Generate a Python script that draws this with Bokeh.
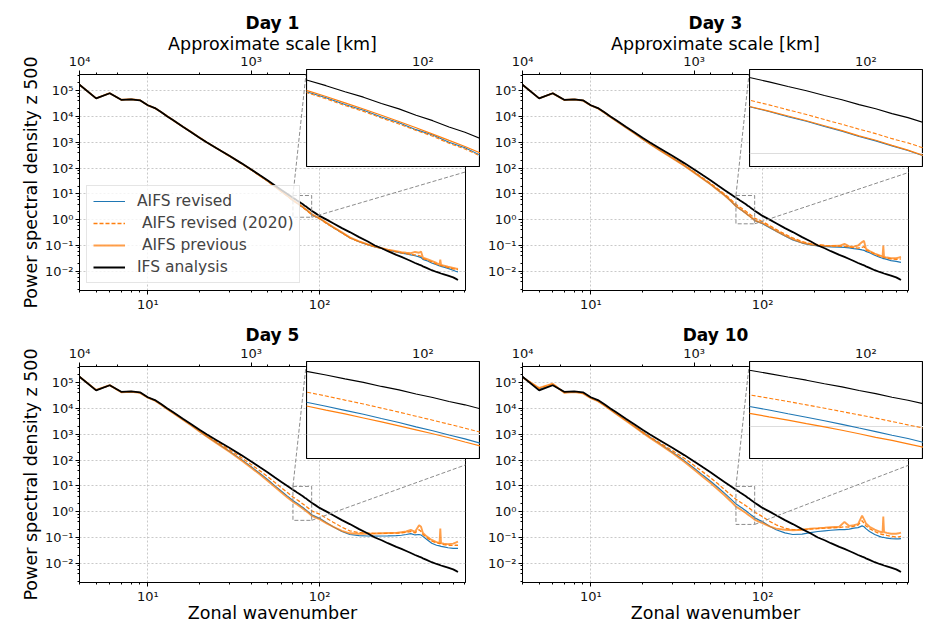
import math
from bokeh.plotting import figure
from bokeh.models import (GridBox, LogAxis, LogScale, Range1d, CustomJSTickFormatter,
                          LogTicker, Arrow, FixedTicker)
from bokeh.embed import file_html
from bokeh.resources import INLINE

# ---------------- data ----------------
wavenumber = [4, 5, 6, 7, 8, 9, 10, 11, 12, 13, 14, 16, 18, 20, 22, 25, 30, 35, 40, 45,
              50, 55, 60, 65, 70, 72, 74, 76, 78, 80, 82, 84, 86, 88, 90, 95, 100, 110, 120, 135,
              150, 170, 190, 210, 230, 250, 280, 300, 320, 340, 360, 380, 390, 400, 420, 450, 480, 500, 505, 510,
              530, 560, 600, 620, 640]

ifs_analysis = [1.7e5, 5.0e4, 7.9e4, 4.4e4, 4.6e4, 4.2e4, 2.7e4, 2.1e4, 1.45e4, 1.0e4,
                7.2e3, 4.0e3, 2.4e3, 1.5e3, 1.0e3, 600, 290, 155, 88, 52,
                33, 21, 14, 9.8, 7.0, 6.25, 5.55, 4.98, 4.4, 3.95,
                3.48, 3.13, 2.76, 2.49, 2.2, 1.75, 1.4, 1.0, 0.73, 0.47,
                0.33, 0.21, 0.145, 0.10, 0.078, 0.06, 0.043, 0.036, 0.030, 0.025,
                0.021, 0.018, 0.017, 0.0155, 0.0135, 0.011, 0.0094, 0.0086, 0.0084, 0.0082,
                0.0076, 0.0068, 0.0058, 0.0052, 0.0046]

# Day 1
aifs_revised_day1 = [1.7e5, 5.0e4, 7.9e4, 4.4e4, 4.6e4, 4.2e4, 2.7e4, 2.1e4, 1.45e4, 1.0e4,
                     7.2e3, 4.0e3, 2.4e3, 1.5e3, 1.0e3, 598, 288, 153, 86, 50,
                     31, 19, 12.2, 8.3, 5.55, 4.92, 4.3, 3.85, 3.36, 3.0,
                     2.62, 2.36, 2.04, 1.83, 1.58, 1.3, 1.1, 0.72, 0.5, 0.31,
                     0.2, 0.14, 0.108, 0.088, 0.076, 0.066, 0.056, 0.05, 0.047, 0.043,
                     0.04, 0.036, 0.034, 0.029, 0.026, 0.021, 0.018, 0.016, 0.016, 0.0155,
                     0.0145, 0.013, 0.011, 0.010, 0.0095]
aifs_revised_2020_day1 = [1.7e5, 5.0e4, 7.9e4, 4.4e4, 4.6e4, 4.2e4, 2.7e4, 2.1e4, 1.45e4, 1.0e4,
                          7.2e3, 4.0e3, 2.4e3, 1.5e3, 1.0e3, 597, 287, 152, 85, 49.5,
                          30.5, 18.7, 12.0, 8.1, 5.45, 4.82, 4.22, 3.76, 3.3, 2.93,
                          2.58, 2.3, 2.0, 1.79, 1.55, 1.27, 1.08, 0.71, 0.49, 0.305,
                          0.198, 0.14, 0.108, 0.089, 0.077, 0.067, 0.057, 0.052, 0.048, 0.045,
                          0.043, 0.04, 0.038, 0.031, 0.028, 0.023, 0.019, 0.017, 0.017, 0.0165,
                          0.0155, 0.014, 0.0125, 0.0118, 0.0115]
aifs_previous_day1 = [1.7e5, 5.0e4, 7.9e4, 4.4e4, 4.6e4, 4.2e4, 2.7e4, 2.1e4, 1.45e4, 1.0e4,
                      7.2e3, 4.0e3, 2.4e3, 1.5e3, 1.0e3, 600, 289, 154, 87, 50.5,
                      31.5, 19.3, 12.4, 8.5, 5.7, 5.04, 4.45, 3.94, 3.48, 3.08,
                      2.72, 2.4, 2.12, 1.88, 1.65, 1.34, 1.14, 0.75, 0.52, 0.32,
                      0.205, 0.145, 0.112, 0.091, 0.079, 0.069, 0.06, 0.055, 0.052, 0.05,
                      0.056, 0.052, 0.058, 0.034, 0.03, 0.025, 0.021, 0.018, 0.028, 0.0175,
                      0.0165, 0.015, 0.0135, 0.0128, 0.0122]

# Day 3
aifs_revised_day3 = [1.7e5, 5.0e4, 7.8e4, 4.3e4, 4.5e4, 4.1e4, 2.65e4, 2.05e4, 1.4e4, 9.6e3,
                     6.8e3, 3.75e3, 2.2e3, 1.34e3, 880, 510, 238, 124, 67, 38,
                     23, 14, 8.9, 5.5, 3.3, 2.92, 2.55, 2.27, 1.98, 1.76,
                     1.53, 1.37, 1.2, 1.07, 0.93, 0.8, 0.7, 0.49, 0.36, 0.235,
                     0.165, 0.124, 0.104, 0.096, 0.092, 0.088, 0.086, 0.084, 0.081, 0.076,
                     0.072, 0.067, 0.065, 0.059, 0.052, 0.042, 0.035, 0.032, 0.031, 0.031,
                     0.029, 0.026, 0.024, 0.023, 0.022]
aifs_revised_2020_day3 = [1.7e5, 5.0e4, 7.9e4, 4.4e4, 4.6e4, 4.2e4, 2.7e4, 2.08e4, 1.43e4, 9.8e3,
                          7.0e3, 3.85e3, 2.26e3, 1.38e3, 910, 530, 248, 130, 71, 40.5,
                          25, 15.5, 9.9, 6.3, 3.9, 3.46, 3.04, 2.7, 2.37, 2.1,
                          1.85, 1.65, 1.45, 1.3, 1.14, 0.97, 0.84, 0.59, 0.42, 0.275,
                          0.195, 0.142, 0.118, 0.107, 0.1, 0.097, 0.094, 0.092, 0.088, 0.083,
                          0.079, 0.085, 0.09, 0.066, 0.058, 0.046, 0.039, 0.035, 0.036, 0.034,
                          0.032, 0.03, 0.029, 0.029, 0.03]
aifs_previous_day3 = [1.7e5, 5.0e4, 7.8e4, 4.3e4, 4.5e4, 4.1e4, 2.65e4, 2.05e4, 1.4e4, 9.6e3,
                      6.8e3, 3.72e3, 2.18e3, 1.33e3, 875, 505, 235, 122, 66, 37.5,
                      22.8, 13.9, 8.8, 5.5, 3.32, 2.95, 2.6, 2.3, 2.02, 1.78,
                      1.56, 1.39, 1.22, 1.08, 0.94, 0.82, 0.74, 0.52, 0.37, 0.245,
                      0.175, 0.13, 0.11, 0.102, 0.098, 0.096, 0.097, 0.115, 0.092, 0.09,
                      0.1, 0.135, 0.15, 0.075, 0.061, 0.048, 0.041, 0.037, 0.1, 0.036,
                      0.034, 0.032, 0.032, 0.034, 0.036]

# Day 5
aifs_revised_day5 = [1.7e5, 5.1e4, 7.9e4, 4.3e4, 4.5e4, 4.1e4, 2.6e4, 2.02e4, 1.38e4, 9.4e3,
                     6.75e3, 3.72e3, 2.16e3, 1.3e3, 840, 480, 215, 106, 55, 30,
                     17.2, 10, 6.2, 4.0, 2.7, 2.38, 2.1, 1.86, 1.63, 1.44,
                     1.26, 1.12, 0.98, 0.87, 0.76, 0.64, 0.55, 0.37, 0.26, 0.17,
                     0.13, 0.118, 0.114, 0.113, 0.114, 0.115, 0.118, 0.122, 0.13, 0.14,
                     0.125, 0.13, 0.125, 0.11, 0.085, 0.06, 0.05, 0.047, 0.046, 0.045,
                     0.043, 0.04, 0.038, 0.038, 0.038]
aifs_revised_2020_day5 = [1.68e5, 5.0e4, 7.8e4, 4.3e4, 4.5e4, 4.1e4, 2.65e4, 2.05e4, 1.41e4, 9.7e3,
                          6.95e3, 3.8e3, 2.23e3, 1.38e3, 900, 528, 246, 125, 67, 38,
                          22.4, 13.5, 8.4, 5.5, 3.7, 3.27, 2.88, 2.56, 2.25, 1.99,
                          1.75, 1.55, 1.37, 1.21, 1.07, 0.92, 0.8, 0.55, 0.39, 0.25,
                          0.18, 0.155, 0.148, 0.145, 0.145, 0.145, 0.147, 0.15, 0.158, 0.17,
                          0.15, 0.2, 0.17, 0.13, 0.1, 0.072, 0.062, 0.058, 0.06, 0.056,
                          0.053, 0.05, 0.049, 0.05, 0.05]
aifs_previous_day5 = [1.7e5, 5.2e4, 8.0e4, 4.2e4, 4.4e4, 4.0e4, 2.6e4, 2.0e4, 1.37e4, 9.3e3,
                      6.7e3, 3.68e3, 2.11e3, 1.28e3, 820, 462, 203, 98, 50, 27.5,
                      15.5, 9, 5.5, 3.5, 2.4, 2.12, 1.88, 1.66, 1.47, 1.3,
                      1.15, 1.02, 0.9, 0.79, 0.7, 0.59, 0.51, 0.35, 0.26, 0.18,
                      0.145, 0.14, 0.14, 0.142, 0.145, 0.148, 0.15, 0.16, 0.17, 0.195,
                      0.165, 0.3, 0.26, 0.15, 0.11, 0.08, 0.066, 0.062, 0.22, 0.06,
                      0.057, 0.055, 0.058, 0.063, 0.069]

# Day 10
aifs_revised_day10 = [1.7e5, 5.6e4, 8.2e4, 4.2e4, 4.4e4, 4.0e4, 2.55e4, 1.95e4, 1.32e4, 9.0e3,
                      6.4e3, 3.45e3, 2.0e3, 1.2e3, 780, 445, 197, 95, 48, 25.5,
                      14.8, 8.6, 5.2, 3.2, 2.0, 1.77, 1.56, 1.38, 1.22, 1.08,
                      0.95, 0.84, 0.74, 0.66, 0.58, 0.48, 0.41, 0.27, 0.2, 0.15,
                      0.13, 0.135, 0.155, 0.17, 0.18, 0.19, 0.2, 0.2, 0.21, 0.23,
                      0.24, 0.28, 0.26, 0.22, 0.17, 0.13, 0.11, 0.1, 0.1, 0.1,
                      0.095, 0.09, 0.088, 0.088, 0.09]
aifs_revised_2020_day10 = [1.65e5, 6.0e4, 8.8e4, 4.1e4, 4.4e4, 3.9e4, 2.55e4, 1.95e4, 1.33e4, 9.1e3,
                           6.5e3, 3.5e3, 2.05e3, 1.23e3, 810, 480, 226, 117, 61, 34,
                           20, 12, 7.2, 4.6, 3.0, 2.67, 2.38, 2.12, 1.89, 1.68,
                           1.5, 1.34, 1.19, 1.06, 0.95, 0.78, 0.64, 0.42, 0.31, 0.23,
                           0.2, 0.2, 0.21, 0.22, 0.23, 0.235, 0.24, 0.26, 0.25, 0.27,
                           0.3, 0.45, 0.35, 0.28, 0.22, 0.17, 0.14, 0.13, 0.13, 0.13,
                           0.12, 0.11, 0.105, 0.105, 0.11]
aifs_previous_day10 = [1.6e5, 6.2e4, 9.0e4, 4.0e4, 4.3e4, 3.8e4, 2.5e4, 1.9e4, 1.3e4, 8.8e3,
                       6.2e3, 3.35e3, 1.9e3, 1.14e3, 730, 420, 183, 85, 42, 22,
                       12.5, 7.2, 4.3, 2.6, 1.58, 1.4, 1.25, 1.11, 0.99, 0.88,
                       0.78, 0.69, 0.62, 0.55, 0.49, 0.41, 0.36, 0.27, 0.22, 0.2,
                       0.19, 0.2, 0.22, 0.23, 0.24, 0.25, 0.26, 0.4, 0.28, 0.3,
                       0.33, 0.7, 0.5, 0.35, 0.26, 0.2, 0.17, 0.155, 0.64, 0.16,
                       0.15, 0.14, 0.14, 0.145, 0.155]

day_titles = ["Day 1", "Day 3", "Day 5", "Day 10"]
revised = [aifs_revised_day1, aifs_revised_day3, aifs_revised_day5, aifs_revised_day10]
revised_2020 = [aifs_revised_2020_day1, aifs_revised_2020_day3, aifs_revised_2020_day5, aifs_revised_2020_day10]
previous = [aifs_previous_day1, aifs_previous_day3, aifs_previous_day5, aifs_previous_day10]

inset_k = [70, 90]
inset_low = [1.24, 0.69, 0.46, 0.32]
inset_high = [8.6, 8.6, 9.5, 9.5]

legend_labels = ["AIFS revised", " AIFS revised (2020)", " AIFS previous", "IFS analysis"]

X_RANGE = (4, 708)
Y_RANGE = (1.8e-3, 4.2e5)

# ---------------- styling / layout ----------------
BLUE = "#1f77b4"
ORANGE = "#ff7f0e"
FONT = "DejaVu Sans"
FW, FH = 386, 216
LB = [79, 52]
RB = [5, 22]
TB = [74, 46]
BB = [30, 57]
IW, IH = 174, 98
INSET_OX, INSET_OY = 227, -5

SUP_JS = """
const sup = {"-": "\u207b", "0": "\u2070", "1": "\u00b9", "2": "\u00b2", "3": "\u00b3",
             "4": "\u2074", "5": "\u2075", "6": "\u2076", "7": "\u2077", "8": "\u2078", "9": "\u2079"};
const e = Math.round(Math.log10(tick));
return "10" + String(e).split("").map(c => sup[c]).join("");
"""


def style_axis(ax):
    ax.formatter = CustomJSTickFormatter(code=SUP_JS)
    ax.major_label_text_font = FONT
    ax.major_label_text_font_size = "13px"
    ax.major_label_text_color = "#111111"
    ax.major_tick_in = 0
    ax.major_tick_out = 4
    ax.minor_tick_in = 0
    ax.minor_tick_out = 2
    ax.axis_line_color = "black"
    ax.major_tick_line_color = "black"
    ax.minor_tick_line_color = "black"
    ax.major_label_standoff = 2
    ax.axis_label_text_font = FONT
    ax.axis_label_text_font_size = "17.5px"
    ax.axis_label_text_font_style = "normal"
    ax.axis_label_text_color = "black"


lx0, lx1 = math.log10(X_RANGE[0]), math.log10(X_RANGE[1])
ly0, ly1 = math.log10(Y_RANGE[0]), math.log10(Y_RANGE[1])


def frame_to_data(ox, oy):
    return 10 ** (lx0 + ox / FW * (lx1 - lx0)), 10 ** (ly1 - oy / FH * (ly1 - ly0))


def make_main(i):
    r, c = divmod(i, 2)
    p = figure(width=LB[c] + FW + RB[c], height=TB[r] + FH + BB[r],
               x_axis_type="log", y_axis_type="log",
               x_range=Range1d(*X_RANGE), y_range=Range1d(*Y_RANGE),
               extra_x_ranges={"km": Range1d(40000 / X_RANGE[0] * 1.0001, 40000 / X_RANGE[1])},
               extra_x_scales={"km": LogScale()},
               title=day_titles[i],
               output_backend="svg", toolbar_location=None,
               min_border_left=LB[c], min_border_right=RB[c],
               min_border_top=TB[r], min_border_bottom=BB[r])
    p.title.align = "center"
    p.title.text_font = FONT
    p.title.text_font_size = "17px"
    p.title.text_font_style = "bold"
    p.title.text_color = "black"
    p.title.standoff = -4
    p.title.offset = 0
    p.background_fill_color = "white"
    p.border_fill_color = "white"
    p.outline_line_color = "black"
    p.outline_line_width = 1
    p.outline_line_alpha = 1

    top = LogAxis(x_range_name="km", ticker=LogTicker())
    if r == 0:
        top.axis_label = "Approximate scale [km]"
    p.add_layout(top, "above")

    p.yaxis.ticker = LogTicker(desired_num_ticks=10)
    for ax in list(p.xaxis) + list(p.yaxis):
        style_axis(ax)
    top.axis_label_standoff = -3
    top.major_label_standoff = 2
    if c == 0:
        p.yaxis.axis_label = "Power spectral density z 500"
        p.yaxis.axis_label_standoff = 1
    if r == 1:
        p.below[0].axis_label = "Zonal wavenumber"
        p.below[0].axis_label_standoff = -4

    for g in (p.xgrid, p.ygrid):
        g.grid_line_color = "#bbbbbb"
        g.grid_line_dash = "2 2"
        g.grid_line_width = 0.8

    kw = dict(legend_label=legend_labels[0]) if i == 0 else {}
    p.line(wavenumber, revised[i], line_color=BLUE, line_width=1.2, **kw)
    kw = dict(legend_label=legend_labels[1]) if i == 0 else {}
    p.line(wavenumber, revised_2020[i], line_color=ORANGE, line_width=1.3, line_dash="4 2", **kw)
    kw = dict(legend_label=legend_labels[2]) if i == 0 else {}
    p.line(wavenumber, previous[i], line_color=ORANGE, line_width=1.9, line_alpha=0.75, **kw)
    kw = dict(legend_label=legend_labels[3]) if i == 0 else {}
    p.line(wavenumber, ifs_analysis, line_color="black", line_width=1.8, **kw)

    # zoom rectangle and connectors
    p.quad(left=[inset_k[0]], right=[inset_k[1]], bottom=[inset_low[i]], top=[inset_high[i]],
           fill_alpha=0, line_color="#8c8c8c", line_dash="4 2", line_width=1)
    xa, ya = frame_to_data(INSET_OX, INSET_OY)
    xb, yb = frame_to_data(INSET_OX + IW, INSET_OY + IH)
    p.add_layout(Arrow(end=None, x_start=inset_k[0], y_start=inset_high[i], x_end=xa, y_end=ya,
                       line_color="#8c8c8c", line_dash="4 2", line_width=1))
    p.add_layout(Arrow(end=None, x_start=inset_k[1], y_start=inset_low[i], x_end=xb, y_end=yb,
                       line_color="#8c8c8c", line_dash="4 2", line_width=1))

    if i == 0:
        lg = p.legend[0]
        lg.location = "bottom_left"
        lg.margin = 7
        lg.padding = 6
        lg.spacing = 4
        lg.glyph_width = 32
        lg.glyph_height = 18
        lg.label_height = 18
        lg.label_standoff = 12
        lg.label_text_font = FONT
        lg.label_text_font_size = "15.5px"
        lg.border_line_color = "#cccccc"
        lg.border_line_width = 1
        lg.background_fill_alpha = 0.8
    return p


def make_inset(i):
    q = figure(width=IW, height=IH,
               x_axis_type="log", y_axis_type="log",
               x_range=Range1d(inset_k[0], inset_k[1]),
               y_range=Range1d(inset_low[i], inset_high[i]),
               output_backend="svg", toolbar_location=None,
               min_border_left=0, min_border_bottom=0, min_border_top=0, min_border_right=0)
    q.title.visible = False
    q.background_fill_color = "white"
    q.border_fill_alpha = 0
    q.outline_line_color = "black"
    q.outline_line_width = 1.2
    q.xaxis.ticker = FixedTicker(ticks=[70, 80, 90], minor_ticks=[])
    q.yaxis.ticker = FixedTicker(ticks=[1], minor_ticks=[])
    q.xaxis.visible = False
    q.yaxis.visible = False
    q.xgrid.visible = False
    q.ygrid.grid_line_color = "#dddddd"
    q.ygrid.grid_line_width = 1
    q.line(wavenumber, revised[i], line_color=BLUE, line_width=1.1)
    q.line(wavenumber, revised_2020[i], line_color=ORANGE, line_width=1.1, line_dash="4 2")
    q.line(wavenumber, previous[i], line_color=ORANGE, line_width=1.2)
    q.line(wavenumber, ifs_analysis, line_color="black", line_width=1.1)
    return q


mains = [make_main(i) for i in range(4)]
insets = [make_inset(i) for i in range(4)]

# column boundaries: 0 | 306 | 470 | 480 | 749 | 923 | 930
cols = ["306px", "164px", "10px", "269px", "174px", "7px"]
# row boundaries: 0 | 69 | 167 | 320 | 361 | 459 | 639
rows = ["69px", "98px", "153px", "41px", "98px", "180px"]

grid = GridBox(children=[
    (mains[0], 0, 0, 3, 2),
    (mains[1], 0, 2, 3, 4),
    (mains[2], 3, 0, 3, 2),
    (mains[3], 3, 2, 3, 4),
    (insets[0], 1, 1, 1, 2),
    (insets[1], 1, 4, 1, 1),
    (insets[2], 4, 1, 1, 2),
    (insets[3], 4, 4, 1, 1),
], rows=rows, cols=cols)

open("out.html", "w").write(file_html(grid, INLINE))
